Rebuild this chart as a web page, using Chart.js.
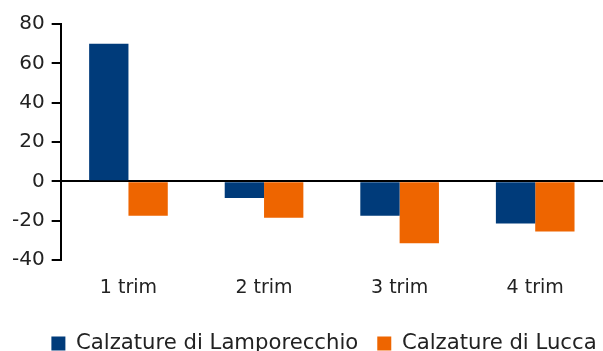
<!DOCTYPE html>
<html>
<head>
<meta charset="utf-8">
<script src="https://cdn.jsdelivr.net/npm/chart.js@4.4.1/dist/chart.umd.min.js"></script>
<style>
  html, body { margin: 0; padding: 0; background: #fff; }
  #wrap { width: 603px; height: 351px; position: relative; }
</style>
</head>
<body>
<div id="wrap"><canvas id="c" width="603" height="351"></canvas></div>
<script>
const categories = ['1 trim', '2 trim', '3 trim', '4 trim'];
const lamporecchio = [70, -8.5, -17.5, -21.5];
const lucca = [-17.5, -18.5, -31.5, -25.5];
const yTicks = [-40, -20, 0, 20, 40, 60, 80];

Chart.defaults.font.family = '"DejaVu Sans", sans-serif';
Chart.defaults.color = '#222';

// fine placement of the legend row under the category labels
const legendNudge = {
  id: 'legendNudge',
  afterLayout(chart) {
    const lg = chart.legend;
    if (!lg) return;
    lg.top += 5; lg.bottom += 5;
    lg.left += 20; lg.right += 20;
  }
};

new Chart(document.getElementById('c'), {
  type: 'bar',
  data: {
    labels: categories,
    datasets: [
      { label: 'Calzature di Lamporecchio', data: lamporecchio, backgroundColor: '#003B7A' },
      { label: 'Calzature di Lucca', data: lucca, backgroundColor: '#EE6500' }
    ]
  },
  plugins: [legendNudge],
  options: {
    responsive: false,
    animation: false,
    layout: { padding: { top: 24, right: 0, left: 5, bottom: -8 } },
    datasets: { bar: { categoryPercentage: 0.58, barPercentage: 1 } },
    plugins: {
      legend: {
        position: 'bottom',
        labels: { boxWidth: 14, boxHeight: 14, padding: 19, font: { size: 21.2 }, color: '#222' }
      },
      tooltip: { enabled: false }
    },
    scales: {
      x: {
        grid: { display: false },
        border: { display: false },
        ticks: { padding: 9, font: { size: 19 }, color: '#222' }
      },
      y: {
        min: yTicks[0],
        max: yTicks[yTicks.length - 1],
        afterBuildTicks: (s) => { s.ticks = yTicks.map(v => ({ value: v })); },
        border: { display: true, color: '#000', width: 2 },
        grid: {
          color: (ctx) => ctx.tick && ctx.tick.value === 0 ? '#000' : 'rgba(0,0,0,0)',
          lineWidth: 2,
          tickColor: '#000',
          tickLength: 9,
          drawOnChartArea: true
        },
        ticks: { font: { size: 20 }, color: '#222', padding: 7 }
      }
    }
  }
});
</script>
</body>
</html>
